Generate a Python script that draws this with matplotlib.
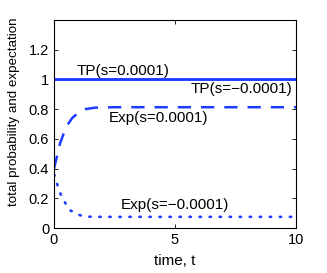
import matplotlib
matplotlib.use("Agg")
import matplotlib.pyplot as plt
import numpy as np

plt.rcParams["font.family"] = ["Liberation Sans", "DejaVu Sans"]

# total probability (both s values overlap at 1)
t_tp = [0, 10]
tp_pos = [1.0, 1.0]
tp_neg = [1.0, 1.0]

# expectation, s = 0.0001 (dashed)
t_exp_pos = [0, 0.12, 0.25, 0.5, 0.75, 1.0, 1.3, 1.7, 2.5, 10]
exp_pos = [0.40, 0.48, 0.57, 0.68, 0.74, 0.775, 0.80, 0.81, 0.813, 0.813]

# expectation, s = -0.0001 (dotted)
t_exp_neg = [0, 0.05, 0.2, 0.38, 0.66, 0.94, 1.24, 1.6, 10]
exp_neg = [0.36, 0.345, 0.255, 0.19, 0.12, 0.093, 0.078, 0.075, 0.075]

blue = "#1e3cff"

fig = plt.figure(figsize=(3.27, 2.73), dpi=100)
ax = fig.add_axes([54 / 327, 1 - 228 / 273, 242 / 327, 208 / 273])

ax.plot(t_tp, tp_pos, color=blue, lw=1.8)
ax.plot(t_tp, tp_neg, color=blue, lw=1.8)
ax.plot(t_exp_pos, exp_pos, color=blue, lw=1.8, dashes=(5.3, 4))
ax.plot(t_exp_neg, exp_neg, color=blue, lw=1.9, linestyle=(0, (0.5, 3.3)),
        dash_capstyle="round")

fs = 11
ax.text(0.95, 1.06, "TP(s=0.0001)", fontsize=fs, ha="left", va="center")
ax.text(9.85, 0.935, "TP(s=\u22120.0001)", fontsize=fs, ha="right", va="center")
ax.text(2.27, 0.74, "Exp(s=0.0001)", fontsize=fs, ha="left", va="center")
ax.text(2.75, 0.155, "Exp(s=\u22120.0001)", fontsize=fs, ha="left", va="center")

ax.set_xlim(0, 10)
ax.set_ylim(0, 1.4)
ax.set_xticks([0, 5, 10])
ax.set_yticks([0, 0.2, 0.4, 0.6, 0.8, 1.0, 1.2])
ax.set_yticklabels(["0", "0.2", "0.4", "0.6", "0.8", "1", "1.2"])
ax.tick_params(direction="in", top=True, right=True, length=3,
               labelsize=10.5, width=0.6)
for sp in ax.spines.values():
    sp.set_linewidth(0.8)
ax.set_xlabel("time, t", fontsize=11, labelpad=5)
ax.set_ylabel("total probability and expectation", fontsize=9.6)
ax.yaxis.set_label_coords(-0.14, 0.56)

fig.savefig("out.png", dpi=100)
